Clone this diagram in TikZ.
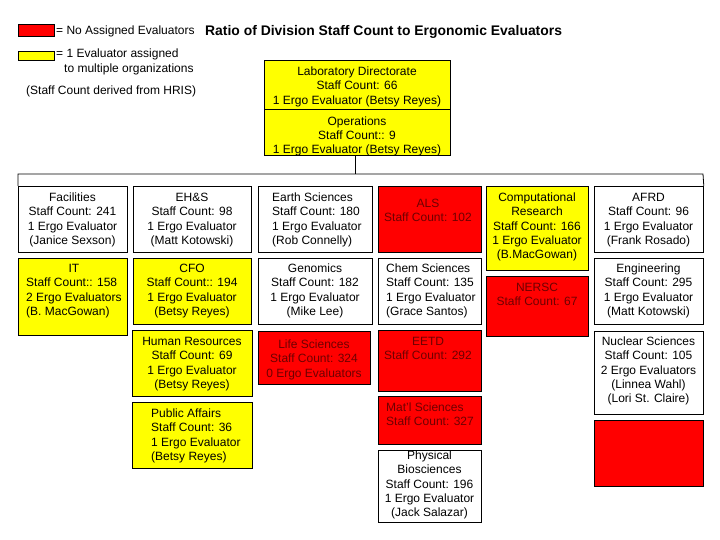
\documentclass[tikz,border=0pt]{standalone}
\usepackage{fontspec}
\setmainfont{Liberation Sans}
\definecolor{boxred}{RGB}{255,0,0}
\definecolor{boxyellow}{RGB}{255,255,0}
\definecolor{redtxt}{RGB}{110,0,0}
\newcommand\ctab[1]{\begin{tabular}{@{}c@{}}#1\end{tabular}}
\newcommand\ltab[1]{\begin{tabular}{@{}l@{}}#1\end{tabular}}
\begin{document}
\begin{tikzpicture}[x=1pt,y=-1pt,
  orgbox/.style={draw=black,line width=0.8pt,inner sep=0pt,anchor=north west},
  whitebox/.style={orgbox,fill=white},
  yelbox/.style={orgbox,fill=boxyellow},
  redbox/.style={orgbox,fill=boxred},
  txt/.style={inner sep=0pt,font=\fontsize{12}{14.3}\selectfont},
  ctxt/.style={txt,anchor=north},
  ltxt/.style={txt,anchor=north west},
  rtxt/.style={text=redtxt},
  legtxt/.style={inner sep=0pt,anchor=base west,font=\fontsize{12}{14.3}\selectfont},
  conn/.style={draw=black,line width=0.8pt}]
\useasboundingbox[fill=white] (0,0) rectangle (720,540);
% legend
\node[redbox,minimum width=36pt,minimum height=12pt] (legred) at (18,24) {};
\node[yelbox,minimum width=36pt,minimum height=9pt] (legyel) at (18,51) {};
\node[legtxt] (legredt) at (56,34.3) {= No Assigned Evaluators};
\node[legtxt] (legyelt) at (56,57.3) {= 1 Evaluator assigned};
\node[legtxt] (legyelt2) at (64,72.3) {to multiple organizations};
\node[legtxt] (hris) at (26,94.3) {(Staff Count derived from HRIS)};
\node[legtxt,font=\fontsize{13.9}{16}\selectfont\bfseries] (title) at (205,35.5) {Ratio of Division Staff Count to Ergonomic Evaluators};
% top boxes
\node[yelbox,minimum width=186pt,minimum height=49pt] (lab) at (264,60) {};
\node[ctxt] (labt) at (357,65.3) {\ctab{Laboratory Directorate\\Staff Count: 66\\1 Ergo Evaluator (Betsy Reyes)}};
\node[yelbox,minimum width=186pt,minimum height=46pt] (ops) at (264,109) {};
\node[ctxt] (opst) at (357,114.8) {\ctab{Operations\\Staff Count:: 9\\ 1 Ergo Evaluator (Betsy Reyes)}};
% row 1
\node[whitebox,minimum width=109pt,minimum height=66pt] (fac) at (18,186) {};
\node[ctxt] (fact) at (72.5,191.3) {\ctab{Facilities\\Staff Count: 241\\1 Ergo Evaluator\\(Janice Sexson)}};
\node[whitebox,minimum width=118pt,minimum height=66pt] (ehs) at (133,186) {};
\node[ctxt] (ehst) at (192,191.3) {\ctab{EH\&S\\Staff Count: 98\\1 Ergo Evaluator\\(Matt Kotowski)}};
\node[whitebox,minimum width=114pt,minimum height=66pt] (earth) at (258,186) {};
\node[ltxt] (eartht) at (272,191.3) {\ltab{Earth Sciences\\Staff Count: 180\\1 Ergo Evaluator\\(Rob Connelly)}};
\node[redbox,minimum width=103pt,minimum height=66pt] (als) at (378,186) {};
\node[ctxt,rtxt] (alst) at (428,197.3) {\ctab{ALS\\Staff Count: 102}};
\node[yelbox,minimum width=102pt,minimum height=84pt] (comp) at (486,186) {};
\node[ctxt] (compt) at (537,191.3) {\ctab{Computational\\Research\\Staff Count: 166\\1 Ergo Evaluator\\(B.MacGowan)}};
\node[whitebox,minimum width=109pt,minimum height=66pt] (afrd) at (594,186) {};
\node[ctxt] (afrdt) at (648.5,191.3) {\ctab{AFRD\\Staff Count: 96\\1 Ergo Evaluator\\(Frank Rosado)}};
% row 2
\node[yelbox,minimum width=109pt,minimum height=77pt] (it) at (18,258) {};
\node[ltxt] (itt) at (26,262.3) {\ltab{\multicolumn{1}{@{}c@{}}{IT}\\Staff Count:: 158\\2 Ergo Evaluators\\(B. MacGowan)}};
\node[yelbox,minimum width=118pt,minimum height=66pt] (cfo) at (133,258) {};
\node[ctxt] (cfot) at (192,262.3) {\ctab{CFO\\Staff Count:: 194\\1 Ergo Evaluator\\(Betsy Reyes)}};
\node[whitebox,minimum width=114pt,minimum height=66pt] (gen) at (258,258) {};
\node[ctxt] (gent) at (315,262.3) {\ctab{Genomics\\Staff Count: 182\\1 Ergo Evaluator\\(Mike Lee)}};
\node[whitebox,minimum width=103pt,minimum height=66pt] (chem) at (378,258) {};
\node[ltxt] (chemt) at (386,262.3) {\ltab{Chem Sciences\\Staff Count: 135\\1 Ergo Evaluator\\(Grace Santos)}};
\node[redbox,minimum width=102pt,minimum height=60pt] (nersc) at (486,276) {};
\node[ctxt,rtxt] (nersct) at (537,281.3) {\ctab{NERSC\\Staff Count: 67}};
\node[whitebox,minimum width=109pt,minimum height=66pt] (eng) at (594,258) {};
\node[ctxt] (engt) at (648.5,262.3) {\ctab{Engineering\\Staff Count: 295\\1 Ergo Evaluator\\(Matt Kotowski)}};
% row 3
\node[yelbox,minimum width=120pt,minimum height=66pt] (hr) at (132,330) {};
\node[ctxt] (hrt) at (192,335.3) {\ctab{Human Resources\\Staff Count: 69\\1 Ergo Evaluator\\(Betsy Reyes)}};
\node[redbox,minimum width=112pt,minimum height=53pt] (life) at (258,331) {};
\node[ctxt,rtxt] (lifet) at (314,338.3) {\ctab{Life Sciences\\Staff Count: 324\\0 Ergo Evaluators}};
\node[redbox,minimum width=103pt,minimum height=61pt] (eetd) at (378,330) {};
\node[ctxt,rtxt] (eetdt) at (428,335.3) {\ctab{EETD\\Staff Count: 292}};
\node[whitebox,minimum width=109pt,minimum height=83pt] (nuc) at (594,331) {};
\node[ctxt] (nuct) at (648.5,335.3) {\ctab{Nuclear Sciences\\Staff Count: 105\\2 Ergo Evaluators\\(Linnea Wahl)\\(Lori St. Claire)}};
% row 4+
\node[yelbox,minimum width=120pt,minimum height=66pt] (pa) at (132,402) {};
\node[ltxt] (pat) at (151,407.3) {\ltab{Public Affairs\\Staff Count: 36\\1 Ergo Evaluator\\(Betsy Reyes)}};
\node[redbox,minimum width=103pt,minimum height=48pt] (matl) at (378,396) {};
\node[ltxt,rtxt] (matlt) at (386,401.3) {\ltab{Mat'l Sciences\\Staff Count: 327}};
\node[whitebox,minimum width=103pt,minimum height=72pt] (phys) at (378,450) {};
\node[ctxt] (physt) at (429.5,449.3) {\ctab{Physical\\Biosciences\\Staff Count: 196\\1 Ergo Evaluator\\(Jack Salazar)}};
\node[redbox,minimum width=109pt,minimum height=66pt] (empty) at (594,420) {};
% connectors
\coordinate (jn) at (355,174);
\coordinate (jl) at (18,174);
\coordinate (jr) at (703,174);
\draw[conn] (ops.south -| jn) -- (jn);
\draw[conn] (fac.north west) -- (jl) -- (jr) -- (afrd.north east);
\end{tikzpicture}
\end{document}
